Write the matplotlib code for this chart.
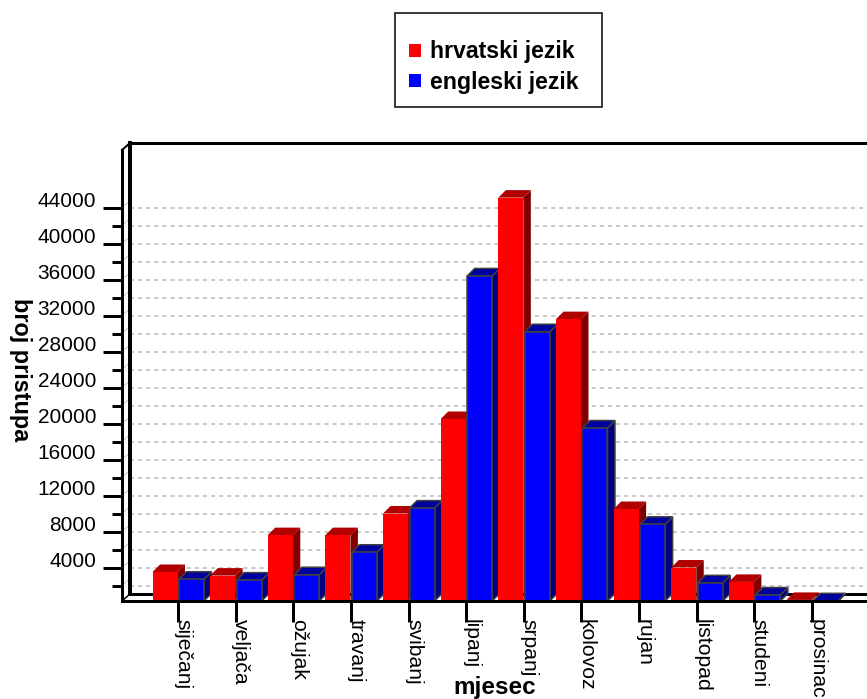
import matplotlib
matplotlib.use('Agg')
import matplotlib.pyplot as plt
from matplotlib.patches import Polygon, Patch, Rectangle
from matplotlib.transforms import ScaledTranslation

mjeseci = ['siječanj', 'veljača', 'ožujak', 'travanj', 'svibanj', 'lipanj',
           'srpanj', 'kolovoz', 'rujan', 'listopad', 'studeni', 'prosinac']
hrvatski = [3500, 3100, 7600, 7600, 10000, 20500, 45100, 31600, 10500, 4000, 2400, 400]
engleski = [2700, 2600, 3200, 5700, 10600, 36400, 30200, 19500, 8800, 2300, 950, 300]

y_major = list(range(4000, 48000, 4000))
y_minor = list(range(2000, 46000, 4000))
grid_vals = list(range(2000, 46000, 2000))

plt.rcParams['font.family'] = ['Liberation Sans', 'DejaVu Sans']

W, H = 867, 699
fig = plt.figure(figsize=(W / 100, H / 100), dpi=100)
# osi u pikselima: prednja ravnina grafa
ax = fig.add_axes([122 / W, 1 - 601 / H, (W - 122) / W, (601 - 150) / H])

px_x = 57.64  # piksela po mjesecu
px_y = 9 / 1000  # piksela po jedinici
ax.set_xlim((122 - 178) / px_x, (W - 178) / px_x)
y0 = 280
ax.set_ylim(y0, y0 + 451 / px_y)

# dubina zida i stupaca
dx = 8 / px_x
dy = 7 / px_y
bdx = 7.5 / px_x
bdy = 7.5 / px_y
w_h = 25 / px_x
w_e = 25 / px_x
px = 0.72  # 1 piksel u pt


def bar3d(x, w, val, front, top, side, edge):
    xl, xr = x, x + w
    lw = 1.5 * px if edge else 0
    ec = edge if edge else 'none'
    ax.add_patch(Polygon([(xr, y0), (xr + bdx, y0 + bdy), (xr + bdx, val + bdy), (xr, val)],
                         facecolor=side, edgecolor=ec, linewidth=lw, zorder=3, clip_on=False))
    ax.add_patch(Polygon([(xl, val), (xl + bdx, val + bdy), (xr + bdx, val + bdy), (xr, val)],
                         facecolor=top, edgecolor=ec, linewidth=lw, zorder=3, clip_on=False))
    ax.bar(x, val - y0, w, bottom=y0, align='edge', color=front, edgecolor=ec, linewidth=lw, zorder=3)


# crtanje s lijeva na desno da se stupci pravilno preklapaju
for i in range(12):
    bar3d(i - 25.5 / px_x, w_h, hrvatski[i], '#ff0000', '#b00000', '#800000', None)
    bar3d(i + 1 / px_x, w_e, engleski[i], '#0000ff', '#0000a0', '#000080', '#404040')

# zadnji zid
xl = ax.get_xlim()[0]
xr = ax.get_xlim()[1]
ax.hlines(grid_vals, xl + dx, xr, colors='#b8b8b8', linewidth=1.5 * px, linestyles=(0, (2.7, 2.7)), zorder=1)
for v in grid_vals:
    ax.plot([xl, xl + dx], [v, v + dy], color='#c8c8c8', lw=1 * px, zorder=1)
ax.plot([xl + dx, xl + dx], [y0 + dy, y0 + 451 / px_y + dy], color='k', lw=4 * px, zorder=2, clip_on=False)
ax.plot([xl + dx, xr], [y0 + dy, y0 + dy], color='k', lw=3 * px, zorder=2)
ax.plot([xl + dx, xr], [y0 + 451 / px_y + dy] * 2, color='k', lw=3 * px, zorder=2, clip_on=False)
ax.plot([xl, xl + dx], [y0 + 451 / px_y, y0 + 451 / px_y + dy], color='k', lw=2 * px, zorder=2, clip_on=False)
ax.plot([xl, xl + dx], [y0, y0 + dy], color='k', lw=1.5 * px, zorder=2)

for s in ['top', 'right']:
    ax.spines[s].set_visible(False)
for s in ['left', 'bottom']:
    ax.spines[s].set_linewidth(3 * px)
    ax.spines[s].set_zorder(5)

ax.set_yticks(y_major)
ax.set_yticks(y_minor, minor=True)
ax.tick_params(axis='y', which='major', length=19 * px, width=3 * px, labelsize=15, pad=5)
ax.tick_params(axis='y', which='minor', length=10 * px, width=3 * px)
ax.set_xticks(range(12))
ax.set_xticklabels(mjeseci, rotation=270, ha='center', va='top', fontsize=15.2)
ax.tick_params(axis='x', length=21 * px, width=3 * px, pad=-2)
pomak = ScaledTranslation(5 / 100, 0, fig.dpi_scale_trans)
for t in ax.get_xticklabels():
    t.set_transform(t.get_transform() + pomak)
# brojke stoje malo iznad crtica
pomak_y = ScaledTranslation(0, 8 / 100, fig.dpi_scale_trans)
for t in ax.get_yticklabels():
    t.set_transform(t.get_transform() + pomak_y)

ax.set_xlabel('mjesec', fontsize=17.5, fontweight='bold', va='center')
ax.xaxis.set_label_coords(0.5007, -0.191)
ax.set_ylabel('broj pristupa', fontsize=16.8, fontweight='bold', rotation=270, va='center', ha='center')
ax.yaxis.set_label_coords(-0.136, 0.514)

# okvir legende posebno jer tekst nije centriran u njemu
fig.add_artist(Rectangle((395 / W, 1 - 107 / H), 207 / W, 94 / H, transform=fig.transFigure,
                         facecolor='white', edgecolor='k', linewidth=1.5 * px, zorder=-1))
handles = [Patch(facecolor='#ff0000', label='hrvatski jezik'), Patch(facecolor='#0000ff', label='engleski jezik')]
leg = ax.legend(handles=handles, loc='center', bbox_to_anchor=(494 / W, 1 - 67 / H),
                bbox_transform=fig.transFigure, frameon=False,
                prop={'size': 16.7, 'weight': 'bold'}, handlelength=0.48, handleheight=0.48,
                handletextpad=0.4, labelspacing=0.31, borderpad=0.9, borderaxespad=0)

fig.savefig('out.png', dpi=100)
